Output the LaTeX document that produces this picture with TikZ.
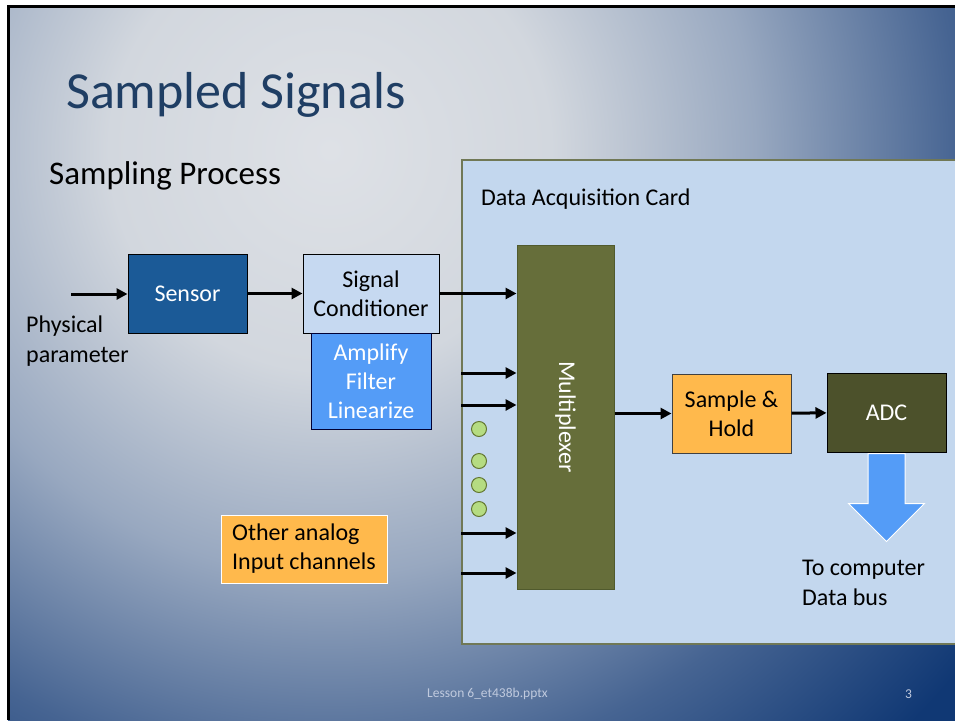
\documentclass[tikz,border=0pt]{standalone}
\usepackage{fontspec}
\setmainfont{Carlito}
\usetikzlibrary{arrows.meta,positioning,calc}

\definecolor{bglight}{RGB}{222,225,230}
\definecolor{bgpale}{RGB}{210,215,222}
\definecolor{bgmid}{RGB}{152,168,192}
\definecolor{bgblue}{RGB}{70,100,146}
\definecolor{bgdark}{RGB}{16,56,116}
\definecolor{titleblue}{RGB}{31,62,100}
\definecolor{sensorblue}{RGB}{27,90,151}
\definecolor{condblue}{RGB}{198,217,241}
\definecolor{filtblue}{RGB}{84,156,247}
\definecolor{daqblue}{RGB}{195,215,238}
\definecolor{daqline}{RGB}{112,120,86}
\definecolor{muxgreen}{RGB}{102,110,58}
\definecolor{muxline}{RGB}{80,90,45}
\definecolor{shorange}{RGB}{255,185,76}
\definecolor{adcgreen}{RGB}{76,81,43}
\definecolor{chanfill}{RGB}{181,220,130}
\definecolor{chanline}{RGB}{100,120,50}
\definecolor{footgrey}{RGB}{192,202,222}

\pgfdeclareradialshading{slidebg}{\pgfpoint{0bp}{0bp}}{color(0bp)=(bglight); color(6.5bp)=(bgpale); color(12.5bp)=(bgmid); color(18.5bp)=(bgblue); color(24bp)=(bgdark); color(50bp)=(bgdark)}

\begin{document}
\begin{tikzpicture}[x=1pt,y=-1pt,
  box/.style={draw=black,line width=1pt,minimum width=119pt,minimum height=79pt,inner sep=0pt,align=center,font=\fontsize{24}{29}\selectfont},
  sig/.style={line width=3pt,-{Triangle[length=11pt,width=11pt]}},
  txt/.style={inner sep=0pt,anchor=base west,align=left,font=\fontsize{24}{29.5}\selectfont},
  chan/.style={circle,draw=chanline,fill=chanfill,line width=1pt,minimum size=15pt,inner sep=0pt}]
  \useasboundingbox (0,0) rectangle (955,720);
  \fill[white] (0,0) rectangle (955,720);
  \begin{scope}
    \clip (8,6) rectangle (955,720);
    \fill[bgdark] (8,6) rectangle (955,720);
    \shade[shading=slidebg] (330,150) circle (850pt);

    \node at (711,402) [draw=daqline,line width=1.5pt,fill=daqblue,minimum width=498pt,minimum height=484pt] (daq) {};
    \node at (481,205) [txt] (daqlabel) {Data Acquisition Card};

    \node at (66,108) [inner sep=0pt,anchor=base west,text=titleblue,font=\fontsize{52}{62}\selectfont] (title) {Sampled Signals};
    \node at (49,184) [inner sep=0pt,anchor=base west,font=\fontsize{33}{40}\selectfont] (subtitle) {Sampling Process};

    \node at (187.5,293.5) [box,fill=sensorblue,text=white] (sensor) {Sensor};
    \node at (371,293.5) [box,fill=condblue,minimum width=136pt] (cond) {Signal\\Conditioner};
    \node at (371,381) [box,draw=black!80!blue,fill=filtblue,text=white,minimum width=120pt,minimum height=96pt] (filt) {Amplify\\Filter\\Linearize};
    \node at (26,362) [txt] (phys) {Physical\\parameter};
    \coordinate (physin) at (71,294);

    \node at (565.5,417) [box,draw=muxline,fill=muxgreen,minimum width=97pt,minimum height=344pt] (mux) {};
    \node at (mux) [rotate=-90,text=white,font=\fontsize{24}{29}\selectfont] (muxtext) {Multiplexer};
    \node at (731.5,413.5) [box,draw=black!75,fill=shorange] (sh) {Sample \&\\Hold};
    \node at (886.5,412.5) [box,fill=adcgreen,text=white] (adc) {ADC};

    \node at (304,549) [box,draw=white,fill=shorange,minimum width=166pt,minimum height=68pt,align=left] (other) {Other analog\\Input channels};

    \node at (479,429) [chan] (ch1) {};
    \node at (479,461) [chan] (ch2) {};
    \node at (479,485) [chan] (ch3) {};
    \node at (479,509) [chan] (ch4) {};

    \coordinate (in1) at (461,373);
    \coordinate (in2) at (461,405);
    \coordinate (in3) at (461,533);
    \coordinate (in4) at (461,573);

    \draw[sig] (physin) -- (physin -| sensor.west);
    \draw[sig] (sensor) -- (cond);
    \draw[sig] (cond.east) -- (cond.east -| mux.west);
    \foreach \c in {in1,in2,in3,in4}
      \draw[sig] (\c) -- (\c -| mux.west);
    \draw[sig] (sh.west -| mux.east) -- (sh.west);
    \draw[sig] (sh) -- (adc);

    \draw[draw=white,line width=1pt,fill=filtblue] ([xshift=-18.5pt,yshift=-1pt]adc.south) -- ++(0,50) -- ++(-19.5,0) -- ++(38,38) -- ++(38,-38) -- ++(-19.5,0) -- ++(0,-50) -- cycle;
    \node at (802,605) [txt] (bus) {To computer\\Data bus};

    \node at (427,697) [inner sep=0pt,anchor=base west,text=footgrey,font=\fontsize{13.5}{16}\selectfont] (foot) {Lesson 6\_et438b.pptx};
    \node at (905,698) [inner sep=0pt,anchor=base west,text=footgrey,font=\fontsize{13.5}{16}\selectfont] (pagenum) {3};
  \end{scope}
  \draw[line width=3pt] (8,720) -- (8,6) -- (955,6);
\end{tikzpicture}
\end{document}
